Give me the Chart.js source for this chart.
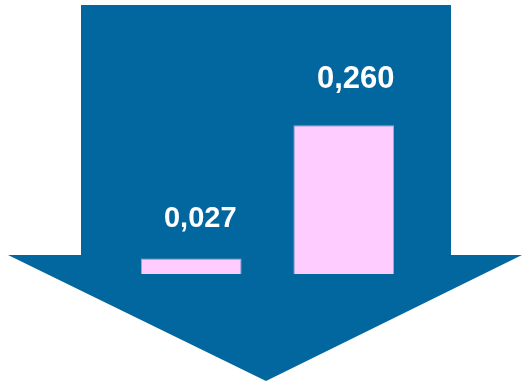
<!DOCTYPE html>
<html>
<head>
<meta charset="utf-8">
<script src="https://cdn.jsdelivr.net/npm/chart.js@4/dist/chart.umd.min.js"></script>
<style>
html,body{margin:0;padding:0;background:#fff;}
#wrap{width:522px;height:381px;position:relative;}
</style>
</head>
<body>
<div id="wrap"><canvas id="c" width="522" height="381"></canvas></div>
<script>
const categories = ["A", "B"];
const values = [0.027, 0.260];
const valueLabels = ["0,027", "0,260"];

// big down arrow behind the bars
const arrowBg = {
    id: "arrowBg",
    beforeDraw(chart) {
        const ctx = chart.ctx;
        ctx.save();
        ctx.fillStyle = "#02679E";
        ctx.beginPath();
        ctx.moveTo(81, 5);
        ctx.lineTo(451, 5);
        ctx.lineTo(451, 255);
        ctx.lineTo(522, 255);
        ctx.lineTo(266, 381);
        ctx.lineTo(8, 255);
        ctx.lineTo(81, 255);
        ctx.closePath();
        ctx.fill();
        ctx.restore();
    }
};

// value labels above bars (label style per bar)
const labelFont = [29, 31];
const labelDx = [9, 12];
const labelDy = [-32, -37];
const barLabels = {
    id: "barLabels",
    afterDatasetsDraw(chart) {
        const ctx = chart.ctx;
        const meta = chart.getDatasetMeta(0);
        ctx.save();
        ctx.fillStyle = "#ffffff";
        ctx.textAlign = "center";
        ctx.textBaseline = "alphabetic";
        meta.data.forEach((bar, i) => {
            ctx.font = "bold " + labelFont[i] + "px 'Liberation Sans', Arial, sans-serif";
            ctx.fillText(valueLabels[i], bar.x + labelDx[i], bar.y + labelDy[i]);
        });
        ctx.restore();
    }
};

new Chart(document.getElementById("c"), {
    type: "bar",
    data: {
        labels: categories,
        datasets: [{
            data: values,
            backgroundColor: "#FFCCFF",
            borderColor: "#A9A3D6",
            borderWidth: 1,
            categoryPercentage: 1,
            barPercentage: 0.66
        }]
    },
    options: {
        responsive: false,
        animation: false,
        layout: {padding: {left: 115, right: 102, top: 45, bottom: 107}},
        plugins: {legend: {display: false}, tooltip: {enabled: false}},
        scales: {
            x: {display: false, offset: true},
            y: {display: false, min: 0, max: 0.4}
        }
    },
    plugins: [arrowBg, barLabels]
});
</script>
</body>
</html>
